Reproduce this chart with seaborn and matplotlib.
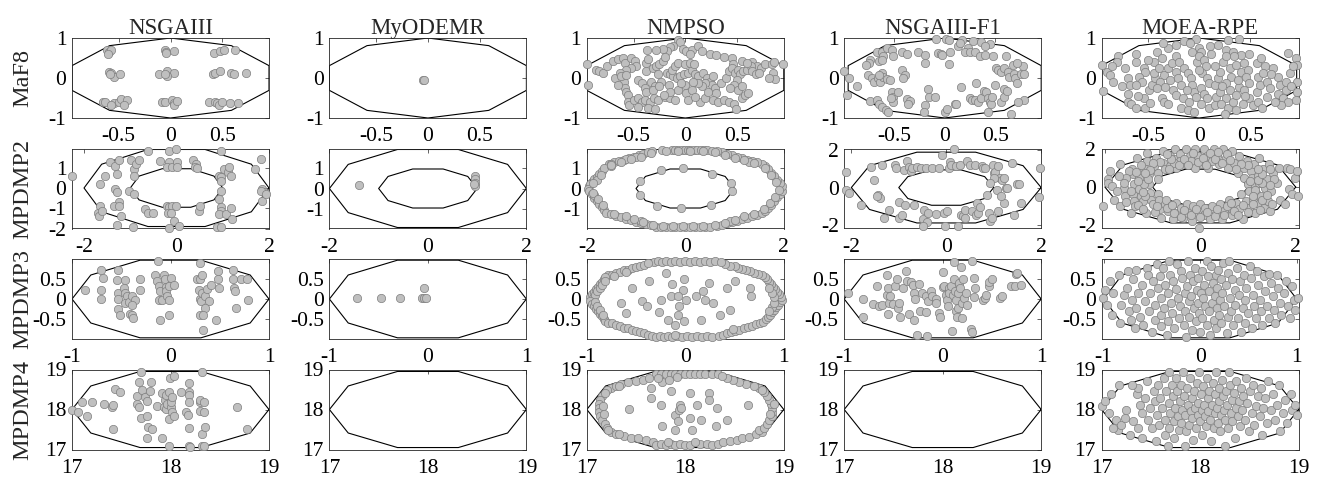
import numpy as np
import pandas as pd
import matplotlib
matplotlib.use("Agg")
import matplotlib.pyplot as plt
from matplotlib.ticker import FuncFormatter
import seaborn as sns

algorithms = ["NSGAIII", "MyODEMR", "NMPSO", "NSGAIII-F1", "MOEA-RPE"]
problems = ["MaF8", "MPDMP2", "MPDMP3", "MPDMP4"]

# ---------------- MaF8 ----------------
maf8_nsgaiii = [(-0.61,0.70),(-0.59,0.64),(-0.57,0.69),(-0.60,0.60),
 (-0.05,0.71),(-0.04,0.66),(0.03,0.68),(-0.04,0.62),
 (0.42,0.63),(0.48,0.68),(0.52,0.70),(0.62,0.70),
 (-0.59,0.15),(-0.57,0.13),(-0.55,0.02),(-0.49,0.10),(-0.58,0.09),
 (-0.11,0.11),(-0.03,0.17),(0.03,0.13),(-0.03,0.05),(-0.05,0.11),
 (0.41,0.10),(0.43,0.13),(0.48,0.17),(0.58,0.13),(0.61,0.09),(0.73,0.13),
 (-0.65,-0.59),(-0.63,-0.59),(-0.55,-0.63),(-0.50,-0.59),(-0.48,-0.52),(-0.42,-0.55),(-0.45,-0.67),(-0.57,-0.67),
 (-0.08,-0.59),(-0.05,-0.59),(0.01,-0.55),(0.03,-0.63),(0.03,-0.68),(0.06,-0.57),
 (0.37,-0.59),(0.43,-0.59),(0.45,-0.63),(0.47,-0.68),(0.50,-0.59),(0.57,-0.63),(0.65,-0.62)]
maf8_myodemr = [(-0.05,-0.05),(-0.04,-0.04)]
maf8_nmpso = [(-0.07,0.96),(-0.05,0.90),
 (-0.12,0.81),(-0.15,0.77),(-0.18,0.68),(-0.22,0.72),(-0.28,0.70),(-0.37,0.70),
 (-0.02,0.73),(0.01,0.68),(0.06,0.70),(0.12,0.81),(0.16,0.68),(0.05,0.60),
 (0.24,0.60),(0.30,0.58),(0.37,0.53),(0.45,0.50),(0.46,0.36),(0.55,0.43),(0.64,0.41),(0.69,0.29),(0.73,0.26),(0.77,0.36),(0.84,0.34),(0.86,0.41),(0.85,0.13),(0.87,-0.02),(0.94,0.34),
 (-0.95,0.34),(-0.86,0.21),(-0.83,0.17),(-0.79,0.13),(-0.76,0.30),(-0.70,0.43),(-0.65,0.47),(-0.60,0.50),(-0.58,0.38),(-0.52,0.51),(-0.49,0.43),(-0.48,0.30),(-0.52,0.26),(-0.57,0.21),
 (-0.94,-0.17),(-0.68,0.00),(-0.63,0.13),(-0.59,-0.09),(-0.58,-0.24),(-0.57,-0.34),(-0.55,-0.43),(-0.65,-0.17),
 (-0.46,-0.04),(-0.42,-0.13),(-0.39,-0.24),(-0.38,-0.34),(-0.38,0.17),(-0.38,0.38),(-0.36,0.47),
 (-0.31,0.26),(-0.28,0.30),(-0.25,0.34),(-0.22,0.43),(-0.20,0.53),(-0.26,0.09),(-0.33,-0.09),(-0.29,-0.21),(-0.31,-0.30),
 (-0.18,0.13),(-0.15,0.09),(-0.12,0.04),(-0.08,0.00),(-0.05,0.04),(-0.01,0.09),(0.03,0.13),(0.06,0.21),(0.09,0.09),(0.12,0.04),(-0.13,0.21),(-0.10,0.30),(-0.07,0.38),(0.00,0.34),(0.05,0.38),(0.08,0.34),
 (0.17,0.13),(0.21,0.00),(0.24,-0.09),(0.26,-0.17),(0.27,0.04),(0.19,-0.13),(0.16,-0.21),(0.12,-0.13),(0.29,-0.26),(0.30,-0.38),
 (0.34,-0.13),(0.39,0.00),(0.42,0.17),(0.45,0.26),(0.48,0.13),(0.51,0.21),(0.53,0.09),(0.56,0.17),(0.60,0.21),(0.50,-0.04),(0.47,-0.17),(0.43,-0.26),(0.51,-0.30),(0.55,-0.21),
 (-0.55,-0.60),(-0.54,-0.68),(-0.50,-0.56),(-0.46,-0.51),(-0.42,-0.60),(-0.39,-0.56),(-0.34,-0.60),(-0.30,-0.51),(-0.26,-0.56),(-0.20,-0.47),(-0.15,-0.51),(-0.10,-0.56),(-0.46,-0.73),(-0.36,-0.75),(-0.29,-0.77),
 (-0.07,-0.30),(0.01,-0.38),(0.03,-0.56),(0.14,-0.60),(0.19,-0.51),(0.22,-0.34),(0.27,-0.56),(0.32,-0.60),(0.37,-0.56),(0.42,-0.60),(0.47,-0.64),(0.49,-0.77),(0.55,-0.51),(0.58,-0.43),(0.61,-0.38),
 (0.63,0.30),(0.64,0.17),(0.68,0.09),(0.71,0.13),(0.60,0.38),(0.81,0.00),(0.07,-0.09),(0.00,-0.17),(-0.04,-0.13),
 (-0.23,-0.09),(-0.25,-0.21),(-0.16,-0.17),(-0.15,-0.34),(-0.21,-0.43),(0.06,-0.30),(0.09,-0.47),(-0.62,0.04),(-0.57,0.07)]
maf8_f1 = [(-0.09,0.97),(0.01,0.97),(0.04,0.96),(0.17,0.96),(0.28,0.92),(0.36,0.90),(0.45,0.85),(0.40,0.79),(0.23,0.75),(0.20,0.66),(0.25,0.65),(0.13,0.79),(0.15,0.87),(0.30,0.66),
 (-0.26,0.66),(-0.19,0.58),(-0.19,0.37),(-0.07,0.62),(-0.04,0.60),(-0.03,0.58),(0.04,0.34),(0.05,0.66),
 (-0.67,0.66),(-0.62,0.66),(-0.61,0.54),(-0.57,0.75),(-0.52,0.71),(-0.51,0.55),(-0.65,0.43),(-0.62,0.45),(-0.74,0.45),(-0.75,0.37),(-0.78,0.33),(-0.42,0.66),(-0.37,0.60),
 (-0.99,0.18),(-0.94,0.01),(-0.86,-0.19),(-0.76,0.08),(-0.72,-0.01),(-0.70,-0.09),(-0.66,-0.01),(-0.64,-0.09),(-0.62,0.12),(-0.61,0.03),(-0.57,-0.03),(-0.54,-0.05),(-0.65,0.08),(-0.42,0.20),(-0.39,0.08),(-0.41,-0.01),(-0.96,-0.43),
 (-0.74,-0.58),(-0.67,-0.55),(-0.65,-0.64),(-0.62,-0.72),(-0.58,-0.81),(-0.56,-0.85),(-0.52,-0.34),(-0.51,-0.47),(-0.51,-0.60),(-0.46,-0.34),(-0.53,-0.51),(-0.37,-0.53),(-0.34,-0.58),(-0.36,-0.64),(-0.19,-0.68),(-0.20,-0.85),(-0.15,-0.47),(-0.10,-0.47),
 (-0.16,-0.28),(0.00,-0.85),(0.02,-0.78),(0.10,-0.64),(0.11,-0.64),(0.16,-0.22),(0.31,-0.12),(0.25,-0.51),(0.27,-0.55),(0.30,-0.55),(0.33,-0.60),(0.36,-0.51),(0.39,-0.33),(0.41,-0.34),(0.43,-0.51),(0.45,-0.60),(0.46,-0.64),(0.47,-0.47),(0.55,-0.60),(0.58,-0.47),(0.58,-0.28),(0.61,-0.33),(0.43,-0.85),(0.65,-0.89),(0.78,-0.55),(0.72,-0.60),
 (0.35,0.54),(0.40,0.58),(0.48,0.56),(0.60,0.56),(0.51,0.24),(0.53,0.20),(0.55,0.16),(0.58,0.26),(0.62,0.16),(0.63,0.03),(0.67,0.33),(0.68,0.09),(0.69,-0.01),(0.71,-0.13),(0.75,0.09),(0.78,0.09),(0.77,0.31),(0.71,0.37),(0.50,-0.18)]
maf8_rpe = [(-0.03,0.98),(0.28,0.96),(0.39,0.97),(-0.15,0.93),(-0.23,0.83),(-0.09,0.87),(0.00,0.75),(0.02,0.66),(-0.07,0.66),(0.11,0.79),(0.18,0.83),(0.26,0.71),(0.33,0.66),(0.41,0.58),(0.49,0.60),(0.56,0.37),(0.64,0.29),(0.87,0.62),(0.94,0.50),(0.95,0.33),
 (-0.95,0.33),(-0.90,0.16),(-0.87,0.08),(-0.84,-0.09),(-0.94,-0.33),(-0.79,0.54),(-0.72,0.24),(-0.69,-0.01),(-0.67,-0.18),(-0.62,0.60),(-0.62,0.41),(-0.54,0.24),(-0.53,0.16),(-0.59,0.03),(-0.56,-0.09),(-0.62,-0.18),(-0.69,-0.39),(-0.69,-0.60),(-0.66,-0.64),(-0.62,-0.76),(-0.53,-0.76),(-0.54,-0.51),(-0.49,-0.30),(-0.46,-0.18),(-0.43,-0.01),(-0.44,0.12),(-0.44,0.41),(-0.41,0.66),(-0.36,0.50),(-0.39,0.24),(-0.34,0.08),(-0.38,-0.09),(-0.41,-0.26),(-0.36,-0.51),(-0.34,-0.60),(-0.30,-0.64),(-0.33,-0.22),(-0.28,-0.05),(-0.30,0.24),(-0.26,0.37),(-0.23,0.54),(-0.20,0.41),(-0.23,0.16),(-0.21,-0.01),(-0.18,-0.18),(-0.25,-0.30),(-0.23,-0.43),(-0.16,-0.51),(-0.18,-0.76),(-0.11,-0.81),(-0.10,-0.60),
 (-0.15,0.24),(-0.11,0.12),(-0.08,-0.01),(-0.07,-0.18),(-0.05,-0.34),(-0.03,-0.47),(-0.02,0.41),(0.00,0.54),(0.05,0.45),(0.07,0.29),(0.03,0.12),(0.08,-0.01),(0.10,-0.13),(0.02,-0.26),(0.05,-0.39),(0.08,-0.51),(0.02,-0.64),(0.10,-0.76),(0.15,-0.68),(0.16,-0.47),(0.20,-0.34),(0.15,-0.18),(0.18,-0.01),(0.20,0.16),(0.15,0.29),(0.23,0.41),(0.26,0.54),(0.30,0.24),(0.31,0.03),(0.26,-0.13),(0.30,-0.30),(0.26,-0.51),(0.21,-0.64),(0.28,-0.76),(0.36,-0.81),(0.33,-0.60),(0.36,-0.43),(0.39,-0.22),(0.38,-0.05),(0.41,0.16),(0.36,0.33),(0.44,0.37),(0.48,0.20),(0.46,0.03),(0.49,-0.13),(0.44,-0.30),(0.49,-0.51),(0.43,-0.64),(0.53,-0.68),(0.57,-0.60),(0.56,-0.34),(0.59,-0.18),(0.57,0.03),(0.62,0.12),(0.66,-0.09),(0.69,-0.26),(0.66,-0.47),(0.61,-0.76),(0.72,0.24),(0.77,0.03),(0.79,-0.18),(0.77,-0.39),(0.82,-0.51),(0.85,-0.30),(0.85,-0.09),(0.89,0.12),(0.92,0.29),(0.95,-0.09),(0.95,-0.34),(0.94,-0.55),(0.87,-0.60),(0.80,-0.68),
 (-0.80,0.40),(-0.75,-0.20),(-0.50,0.45),(-0.48,-0.62),(-0.30,0.75),(-0.12,-0.30),(0.00,0.20),(0.12,0.60),(0.22,-0.20),(0.34,0.55),(0.45,-0.45),(0.60,0.50),(0.70,0.10),(0.74,-0.60),(0.90,-0.20),(-0.05,-0.85),(0.25,-0.90),(-0.35,0.88),(-0.60,-0.45),(-0.85,0.30)]

# ---------------- MPDMP2 ----------------
mpdmp2_nsgaiii = [(-2.25,0.58),(-1.66,0.20),(-1.55,0.61),(-1.43,1.27),(-1.32,1.11),(-1.25,1.36),(-1.29,0.69),(-1.32,-0.05),(-1.29,-0.21),(-1.25,-0.71),(-1.36,-0.88),(-1.25,-0.88),(-1.21,-1.37),(-1.29,-1.83),(-0.95,-1.95),
 (-0.99,1.36),(-0.91,0.94),(-0.93,0.61),(-0.87,1.19),(-0.81,1.39),(-0.69,-1.04),(-0.61,-1.21),(-0.50,-1.21),(-1.02,-0.13),(-0.91,-0.30),(-1.66,-0.88),(-1.70,-1.21),(-1.67,-1.37),(-1.62,-1.12),
 (-0.61,1.85),(-0.35,1.31),(-0.16,1.85),(-0.01,1.93),(-0.16,1.27),(-0.20,1.02),(-0.09,1.02),(0.00,1.27),(0.00,1.02),(-0.20,-0.88),(-0.16,-0.96),(-0.09,-0.88),(-0.01,-0.91),(-0.18,-1.21),(-0.11,-1.24),(-0.05,-1.62),(0.06,-1.87),(-0.16,-1.98),
 (0.36,1.36),(0.43,1.19),(0.39,1.02),(0.45,0.97),(0.49,-1.12),(0.51,-0.88),(0.96,1.85),(0.92,0.61),(0.96,0.53),(0.96,0.36),(1.03,0.94),(1.11,0.78),(1.18,0.61),(1.14,1.02),(0.96,-0.13),(0.92,-0.55),(0.96,-0.96),(0.96,-1.12),(0.92,-1.29),(0.88,-1.95),(0.96,-1.95),(1.07,-1.29),(1.18,-1.01),(1.20,-1.54),
 (1.70,0.94),(1.82,1.44),(1.85,-0.05),(1.89,-0.21),(1.85,-0.63),(1.82,-0.13),(1.93,-0.30)]
mpdmp2_myodemr = [(-1.40,0.15),(0.95,0.61),(0.95,0.45),(0.95,0.28),(0.96,0.12),(0.94,0.20)]
mpdmp2_nmpso = [(-0.49,0.91),(-0.05,1.02),(0.55,0.73),(0.92,0.25),(0.94,-0.13),(-0.92,0.36),(-0.92,-0.30),(-0.58,-0.83),(-0.08,-0.96),(0.53,-0.81),
 (-0.48,1.87),(-0.27,1.87),(-0.20,1.87),(-0.14,1.87),(-0.07,1.87),(0.00,1.87),(0.05,1.87),(0.10,1.87),(0.17,1.87),(0.24,1.87),(0.31,1.87),(0.38,1.87),(0.44,1.87),(0.55,1.85),
 (-1.55,1.19),(-1.45,1.27),(-1.35,1.34),(-1.25,1.41),(-1.15,1.49),(-1.05,1.56),(-0.95,1.63),(-0.85,1.70),(-0.75,1.77),(-0.68,1.82),(-1.50,1.20),(-1.20,1.42),(-1.00,1.55),
 (-1.95,0.10),(-1.90,0.30),(-1.85,0.45),(-1.80,0.55),(-1.75,0.70),(-1.70,0.85),(-1.65,1.00),(-1.93,0.20),(-1.98,0.00),
 (-1.95,-0.10),(-1.90,-0.28),(-1.85,-0.45),(-1.80,-0.60),(-1.75,-0.75),(-1.70,-0.90),(-1.65,-1.05),(-1.60,-1.18),(-1.50,-1.25),(-1.40,-1.32),(-1.30,-1.40),(-1.20,-1.47),(-1.10,-1.55),(-1.00,-1.62),(-0.90,-1.68),(-0.80,-1.75),(-0.70,-1.80),(-0.60,-1.86),
 (-0.50,-1.88),(-0.40,-1.88),(-0.30,-1.88),(-0.20,-1.90),(-0.10,-1.88),(0.00,-1.90),(0.10,-1.88),(0.20,-1.90),(0.30,-1.88),(0.40,-1.88),(0.50,-1.86),
 (0.65,-1.82),(0.75,-1.77),(0.85,-1.70),(0.95,-1.63),(1.05,-1.57),(1.15,-1.50),(1.25,-1.42),(1.35,-1.35),(1.45,-1.28),(1.55,-1.20),(1.62,-1.10),(1.68,-0.93),(1.74,-0.78),(1.80,-0.60),(1.86,-0.42),(1.92,-0.25),(1.96,-0.10),
 (1.96,0.10),(1.92,0.25),(1.86,0.42),(1.80,0.60),(1.74,0.78),(1.68,0.93),(1.62,1.10),(1.55,1.20),(1.45,1.27),(1.35,1.34),(1.25,1.41),(1.15,1.49),(1.05,1.56),(0.95,1.63),(0.85,1.70),(0.75,1.77),(0.65,1.83),
 (-1.50,1.10),(-1.30,1.30),(-1.80,0.40),(-1.85,-0.30),(-1.20,-1.35),(1.20,-1.35),(1.85,0.30),(1.30,1.30),(-0.90,-1.60),(0.90,-1.60),
 (-1.50,1.13),(-1.10,1.42),(-0.90,1.56),(-0.70,1.71),(-1.88,0.25),(-1.72,0.68),(-1.88,-0.20),(-1.78,-0.50),(-1.68,-0.80),(-1.45,-1.22),(-1.05,-1.50),(-0.85,-1.63),(-0.65,-1.76),(-0.45,-1.82),(-0.25,-1.82),(-0.05,-1.83),(0.15,-1.82),(0.35,-1.82),(0.60,-1.77),(0.80,-1.66),(1.00,-1.53),(1.40,-1.26),(1.60,-1.00),(1.72,-0.70),(1.83,-0.40),(1.90,-0.05),(1.75,0.68),(1.62,1.00),(1.40,1.23),(1.20,1.37),(1.00,1.51),(0.80,1.65),(0.60,1.78),(0.35,1.82),(0.10,1.82),(-0.15,1.82),(-0.40,1.82)]
mpdmp2_f1 = [(-2.12,0.85),(-2.12,-0.12),(-2.04,-0.30),(-1.79,-0.92),(-1.52,0.41),(-1.58,1.12),(-1.43,-0.39),(-1.40,-0.57),(-1.45,-0.48),(-1.36,1.24),(-1.31,-1.63),(-1.20,-1.19),(-1.09,1.24),(-1.00,-1.63),(-0.99,-0.78),(-0.93,-1.46),(-0.90,0.94),(-0.86,-0.92),(-0.83,1.42),(-0.79,1.12),(-0.75,0.89),(-0.72,1.07),(-0.68,-0.92),(-0.61,1.12),(-0.54,1.03),(-0.49,-1.67),(-0.47,-1.19),(-0.43,1.03),(-0.40,-1.85),(-0.38,-1.37),(-0.50,-2.08),(-0.29,1.07),(-0.22,-1.42),(-0.15,1.07),(-0.08,1.74),(-0.04,-1.37),(-0.02,-2.08),(0.01,-1.24),(0.05,1.07),(0.07,1.39),(0.10,1.21),(0.16,2.05),(0.21,1.17),(0.25,-2.08),(0.28,1.21),(0.32,-1.46),(0.35,-1.55),(0.39,-1.63),(0.39,-1.19),(0.43,1.42),(0.50,1.24),(0.55,-1.28),(0.60,1.24),(0.63,-1.46),(0.64,-0.83),(0.67,-1.37),(0.71,-1.07),(0.75,1.15),(0.78,1.07),(0.82,1.03),(0.85,-0.39),(0.89,-1.37),(0.93,-1.81),(0.96,-1.63),(0.98,1.21),(1.00,0.76),(1.03,0.85),(1.08,1.17),(1.10,-1.28),(1.14,0.53),(1.18,0.41),(1.21,0.50),(1.25,-0.04),(1.21,-0.83),(1.27,0.00),(1.43,-1.46),(1.48,0.18),(1.53,0.18),(1.57,-0.83),(1.39,1.30),(1.96,-0.53),(1.98,1.03),(1.00,0.50),(0.93,0.23),(1.07,-0.12),(1.15,-0.48),(-1.06,1.07)]
mpdmp2_rpe = [(-2.05,-1.00),(-1.93,0.41),(-1.89,0.85),(-1.93,0.23),(-1.86,0.05),(-1.80,-0.66),(-1.68,-1.01),(-1.68,1.21),(-1.61,-0.04),(-1.46,-1.37),(-1.43,0.94),(-1.41,0.67),(-1.39,0.14),(-1.41,-0.39),(-1.39,-0.75),(-1.36,-1.01),(-1.32,1.56),(-1.29,0.50),(-1.29,-0.12),(-1.25,-0.48),(-1.21,-0.75),(-1.18,1.03),(-1.14,-1.37),(-1.11,1.83),(-1.11,1.39),(-1.07,0.67),(-1.07,0.14),(-1.06,-0.30),(-1.04,-0.66),(-1.00,-0.92),(-0.97,1.12),(-0.93,1.56),(-0.89,0.76),(-0.89,0.41),(-0.89,-0.39),(-0.86,-0.66),(-0.84,-1.19),(-0.82,-1.63),(-0.79,1.92),(-0.79,1.30),(-0.75,0.94),(-0.75,-0.92),(-0.72,-0.66),(-0.68,-1.28),(-0.64,1.65),(-0.63,1.12),(-0.61,-1.01),(-0.57,-1.72),(-0.54,2.00),(-0.54,1.47),(-0.50,1.03),(-0.50,-0.83),(-0.47,-1.37),(-0.43,1.74),(-0.42,1.39),(-0.40,-1.10),(-0.36,-1.63),(-0.32,1.21),(-0.30,2.00),(-0.29,-0.92),(-0.25,-1.37),(-0.22,1.65),(-0.20,1.39),(-0.18,-1.81),(-0.15,-1.01),(-0.11,2.00),(-0.11,1.03),(-0.08,-1.37),(-0.04,1.65),(-0.02,-2.15),(0.00,-0.92),(0.03,1.21),(0.07,2.00),(0.08,-1.46),(0.10,-1.10),(0.14,1.65),(0.17,1.03),(0.21,-1.72),(0.25,-1.01),(0.25,1.39),(0.28,2.00),(0.32,-1.37),(0.35,1.65),(0.39,1.21),(0.42,-0.92),(0.46,-1.72),(0.48,2.00),(0.50,-1.28),(0.53,1.56),(0.57,1.03),(0.60,-0.66),(0.64,-1.10),(0.67,1.92),(0.67,-1.46),(0.71,1.30),(0.74,-0.83),(0.78,0.76),(0.82,1.65),(0.82,-1.19),(0.85,-0.39),(0.89,-1.72),(0.91,1.03),(0.92,0.50),(0.96,-0.75),(0.98,1.39),(1.00,0.14),(1.01,-1.10),(1.03,-0.21),(1.07,0.85),(1.08,0.50),(1.10,-0.66),(1.12,1.21),(1.14,0.05),(1.15,-1.37),(1.17,-0.30),(1.21,0.59),(1.22,-0.92),(1.24,1.56),(1.24,0.23),(1.28,-0.48),(1.31,0.94),(1.34,-1.10),(1.35,-0.04),(1.39,0.41),(1.42,-0.75),(1.43,1.21),(1.46,-1.28),(1.49,-0.21),(1.52,0.76),(1.60,0.23),(1.64,1.03),(1.67,-0.66),(1.78,-0.92),(1.81,1.03),(1.85,-0.12),(1.88,0.94),(1.92,-0.39),(1.98,0.50),(2.03,0.85),(2.04,-0.48),(-1.50,0.85),(-1.57,-0.48),(-1.18,0.14),
 (-0.55,1.30),(-0.45,1.20),(-0.35,1.50),(-0.25,1.15),(-0.15,1.80),(-0.05,1.35),(0.05,1.55),(0.12,1.20),(0.20,1.80),(0.30,1.50),(0.38,1.85),(0.45,1.30),(0.55,1.75),(0.62,1.45),(-0.62,1.50),(-0.70,1.75),(-0.85,1.35),(-1.00,1.30),(-1.25,1.20),(-1.35,0.80),(-1.55,0.50),(-1.70,0.60),(-1.75,-0.20),(-1.55,-0.80),(-1.30,-0.95),(-1.15,-0.50),(-1.20,-1.15),(-0.95,-1.35),(-0.90,-1.00),(-0.70,-1.10),(-0.55,-1.40),(-0.40,-1.60),(-0.35,-1.20),(-0.20,-1.50),(-0.10,-1.15),(0.00,-1.60),(0.15,-1.30),(0.30,-1.55),(0.35,-1.15),(0.50,-1.50),(0.55,-1.00),(0.70,-1.25),(0.80,-1.50),(0.90,-0.95),(1.00,-1.35),(1.10,-0.90),(1.25,-1.20),(1.30,-0.70),(1.40,-0.40),(1.50,-0.90),(1.55,0.45),(1.45,0.10),(1.30,0.20),(1.20,0.35),(1.15,-0.15),(1.30,0.70),(1.45,0.95),(1.20,0.95),(1.00,1.15),(0.85,1.25),(0.75,0.95),(1.05,0.30),(1.10,-0.45),(-1.10,0.45),(-1.20,-0.25),(-1.30,0.30),(-1.45,-0.20),(-1.60,0.20),(-1.05,0.90),(-1.15,0.75),(-0.65,0.95),(0.65,-0.85),(-0.60,-0.95)]

# ---------------- MPDMP3 ----------------
mpdmp3_nsgaiii = [(-0.87,0.23),(-0.71,0.70),(-0.69,0.52),(-0.71,0.21),(-0.71,0.00),(-0.53,0.70),(-0.54,0.46),(-0.46,0.46),(-0.53,0.15),(-0.53,0.00),(-0.53,-0.25),(-0.51,-0.40),(-0.47,0.26),(-0.46,0.15),(-0.44,0.07),(-0.46,-0.10),(-0.42,-0.07),(-0.39,0.07),(-0.36,-0.02),(-0.39,-0.14),(-0.41,-0.37),(-0.39,-0.40),(-0.38,-0.47),(-0.31,0.48),(-0.31,0.21),(-0.16,0.60),(-0.14,0.44),(-0.13,0.93),(-0.12,0.31),(-0.12,-0.02),(-0.11,0.19),(-0.09,-0.02),(-0.07,0.60),(-0.06,0.50),(-0.05,0.29),(-0.05,0.19),(-0.04,0.07),(-0.02,-0.02),(-0.02,0.31),(0.00,0.52),(-0.11,-0.52),(-0.02,-0.39),(0.04,0.34),
 (0.30,0.89),(0.27,0.50),(0.30,0.50),(0.32,0.60),(0.29,0.21),(0.30,0.00),(0.31,-0.06),(0.32,0.15),(0.35,0.07),(0.37,0.25),(0.39,-0.04),(0.35,-0.22),(0.30,-0.40),(0.33,-0.40),(0.33,-0.76),(0.41,0.34),(0.46,-0.51),(0.48,0.69),(0.48,0.50),(0.49,0.27),(0.63,0.70),(0.63,0.50),(0.64,0.26),(0.65,0.19),(0.66,-0.22),(0.72,0.50),(0.78,0.50),(0.79,-0.02)]
mpdmp3_myodemr = [(-0.72,0.02),(-0.48,0.02),(-0.28,0.02),(-0.06,0.02),(-0.04,0.02),(-0.02,0.02),(-0.04,0.27)]
mpdmp3_nmpso = [(-0.32,0.90),(-0.28,0.93),(-0.24,0.90),(-0.20,0.93),(-0.15,0.91),(-0.10,0.93),(-0.05,0.90),(0.00,0.93),(0.05,0.91),(0.10,0.93),(0.15,0.90),(0.20,0.93),(0.25,0.91),(0.30,0.93),
 (-0.78,0.58),(-0.74,0.60),(-0.70,0.64),(-0.66,0.66),(-0.62,0.70),(-0.58,0.72),(-0.54,0.76),(-0.50,0.78),(-0.46,0.82),(-0.42,0.84),(-0.38,0.88),(-0.72,0.56),(-0.60,0.66),
 (-0.97,0.06),(-0.95,0.12),(-0.93,0.18),(-0.91,0.24),(-0.89,0.30),(-0.87,0.36),(-0.85,0.42),(-0.83,0.48),(-0.82,0.54),(-0.94,0.02),(-0.92,0.10),(-0.90,0.20),(-0.87,0.28),(-0.85,0.35),(-0.82,0.44),
 (-0.97,-0.06),(-0.95,-0.12),(-0.93,-0.18),(-0.91,-0.24),(-0.89,-0.30),(-0.87,-0.36),(-0.85,-0.42),(-0.83,-0.48),(-0.82,-0.54),(-0.92,-0.08),(-0.90,-0.18),(-0.87,-0.26),(-0.84,-0.40),
 (-0.78,-0.58),(-0.74,-0.60),(-0.70,-0.64),(-0.66,-0.66),(-0.62,-0.70),(-0.58,-0.72),(-0.54,-0.76),(-0.50,-0.78),(-0.46,-0.82),(-0.42,-0.84),(-0.38,-0.88),(-0.34,-0.90),
 (-0.30,-0.93),(-0.26,-0.90),(-0.22,-0.93),(-0.18,-0.91),(-0.13,-0.93),(-0.08,-0.90),(-0.03,-0.93),(0.02,-0.91),(0.07,-0.93),(0.12,-0.90),(0.17,-0.93),(0.22,-0.91),(0.27,-0.93),(-0.10,-0.88),
 (0.34,-0.90),(0.38,-0.88),(0.42,-0.84),(0.46,-0.82),(0.50,-0.78),(0.55,-0.75),(0.60,-0.72),(0.64,-0.68),(0.68,-0.66),(0.72,-0.62),(0.76,-0.60),(0.79,-0.56),(0.48,-0.74),
 (0.82,-0.50),(0.84,-0.44),(0.86,-0.38),(0.88,-0.32),(0.90,-0.26),(0.92,-0.20),(0.94,-0.14),(0.96,-0.08),(0.98,-0.02),(0.88,-0.20),(0.90,-0.10),(0.85,-0.30),
 (0.97,0.06),(0.95,0.12),(0.93,0.18),(0.91,0.24),(0.89,0.30),(0.87,0.36),(0.85,0.42),(0.83,0.48),(0.81,0.54),(0.90,0.05),(0.88,0.15),(0.85,0.28),
 (0.78,0.60),(0.74,0.62),(0.70,0.64),(0.66,0.68),(0.62,0.70),(0.58,0.74),(0.54,0.76),(0.50,0.80),(0.45,0.82),(0.40,0.86),(0.36,0.90),
 (-0.20,0.64),(-0.37,0.45),(-0.54,0.27),(-0.01,0.48),(-0.14,0.37),(-0.02,0.23),(0.24,0.40),(0.42,0.27),(0.50,0.45),(0.66,0.27),(0.67,0.07),(-0.15,0.07),(-0.25,-0.02),(-0.07,0.07),(0.01,-0.02),(0.11,0.07),(0.18,0.19),(0.20,-0.02),(0.28,-0.10),(0.45,-0.26),(0.35,-0.40),(0.16,-0.51),(-0.01,-0.55),(-0.07,-0.40),(-0.06,-0.16),(-0.27,-0.32),(-0.18,-0.51),(-0.44,-0.06),(-0.65,-0.10),(-0.39,-0.18),(-0.60,-0.35),(-0.10,-0.64)]
mpdmp3_f1 = [(-0.96,0.15),(-0.81,0.00),(-0.81,-0.45),(-0.71,-0.12),(-0.67,0.31),(-0.65,-0.16),(-0.62,-0.14),(-0.57,0.60),(-0.57,0.11),(-0.56,0.26),(-0.56,-0.37),(-0.55,-0.10),(-0.53,0.07),(-0.50,-0.12),(-0.48,0.31),(-0.46,0.50),(-0.45,-0.22),(-0.43,-0.43),(-0.44,-0.10),(-0.40,0.27),(-0.37,0.68),(-0.36,0.45),(-0.34,-0.37),(-0.32,0.42),(-0.30,0.34),(-0.29,0.15),(-0.29,-0.51),(-0.28,0.01),(-0.26,-0.88),(-0.24,0.37),(-0.23,-0.29),(-0.21,0.15),(-0.17,0.07),(-0.17,-0.32),(-0.16,-0.90),(-0.15,-0.06),(-0.12,0.19),(-0.11,0.07),(-0.07,0.01),(-0.07,-0.10),(-0.04,-0.35),(-0.03,-0.45),(0.00,0.29),(0.00,0.67),(0.01,0.31),(0.03,0.11),(0.04,-0.02),(0.05,-0.18),(0.06,0.26),(0.06,0.15),(0.08,0.31),(0.09,-0.78),(0.10,0.11),(0.11,0.91),(0.11,0.48),(0.12,0.19),(0.13,-0.02),(0.14,-0.30),(0.15,-0.45),(0.16,-0.21),(0.16,0.15),(0.17,0.40),(0.18,0.27),(0.19,0.78),(0.20,-0.47),(0.20,-0.10),(0.21,0.50),(0.22,0.02),(0.24,0.15),(0.25,-0.14),(0.29,-0.73),(0.30,0.93),(0.30,-0.80),(0.32,0.52),(0.32,0.04),(0.33,0.26),(0.41,-0.02),(0.43,0.02),(0.44,0.11),(0.47,0.31),(0.47,0.42),(0.50,0.50),(0.58,0.02),(0.60,0.07),(0.69,0.31),(0.73,0.31),(0.74,0.62),(0.75,0.64),(0.79,0.34)]
mpdmp3_rpe = [(-1.01,0.02),(-0.98,0.23),(-0.96,-0.14),(-0.93,0.44),(-0.91,-0.39),(-0.90,0.15),(-0.84,0.60),(-0.83,-0.59),(-0.82,-0.14),(-0.79,0.11),(-0.76,0.27),(-0.75,0.68),(-0.74,-0.30),(-0.72,-0.51),(-0.71,-0.02),(-0.69,0.48),(-0.67,-0.72),(-0.66,0.72),(-0.66,-0.22),(-0.64,0.15),(-0.62,-0.43),(-0.60,0.35),(-0.59,-0.63),(-0.57,-0.06),(-0.55,0.77),(-0.54,0.60),(-0.53,-0.30),(-0.52,0.15),(-0.50,-0.80),(-0.49,0.44),(-0.47,-0.51),(-0.47,-0.14),(-0.45,0.85),(-0.44,0.27),(-0.42,0.56),(-0.41,-0.39),(-0.40,0.02),(-0.40,-0.67),(-0.38,0.77),(-0.37,-0.22),(-0.36,0.35),(-0.34,-0.88),(-0.33,0.15),(-0.33,-0.55),(-0.32,0.93),(-0.31,0.60),(-0.30,-0.10),(-0.29,-0.35),(-0.28,0.44),(-0.27,-0.72),(-0.25,0.25),(-0.24,0.85),(-0.23,0.02),(-0.22,-0.47),(-0.21,-0.18),(-0.20,0.68),(-0.19,0.52),(-0.17,-0.63),(-0.16,0.15),(-0.16,-0.30),(-0.15,-0.92),(-0.14,0.31),(-0.13,0.93),(-0.12,-0.06),(-0.11,-0.43),(-0.10,0.60),(-0.09,0.07),(-0.08,-0.76),(-0.07,0.44),(-0.06,-0.22),(-0.05,0.77),(-0.04,-0.55),(-0.03,0.23),(-0.02,-0.10),(-0.02,0.52),(-0.01,-0.35),(0.00,-0.80),(0.01,0.15),(0.02,0.68),(0.02,-0.47),(0.03,0.02),(0.04,0.35),(0.05,-0.18),(0.07,0.93),(0.07,-0.63),(0.08,0.56),(0.09,0.19),(0.09,-0.30),(0.10,-0.88),(0.11,0.81),(0.12,-0.10),(0.13,0.40),(0.14,-0.51),(0.15,0.07),(0.16,0.60),(0.16,-0.72),(0.17,-0.22),(0.18,0.27),(0.19,0.72),(0.20,-0.39),(0.21,-0.02),(0.22,0.48),(0.22,-0.59),(0.23,0.15),(0.24,0.89),(0.25,-0.18),(0.27,0.35),(0.28,-0.84),(0.29,-0.43),(0.29,0.64),(0.30,0.93),(0.31,0.02),(0.32,-0.30),(0.33,0.48),(0.34,-0.63),(0.36,0.23),(0.36,-0.14),(0.38,0.77),(0.39,-0.47),(0.40,0.11),(0.41,0.44),(0.42,-0.80),(0.44,-0.22),(0.45,0.60),(0.47,-0.02),(0.47,-0.59),(0.48,0.27),(0.50,-0.35),(0.52,0.80),(0.53,0.52),(0.54,-0.72),(0.55,0.11),(0.56,-0.18),(0.58,-0.47),(0.59,0.68),(0.60,0.35),(0.62,-0.02),(0.63,-0.30),(0.64,-0.63),(0.66,0.56),(0.67,0.19),(0.69,-0.18),(0.71,0.62),(0.71,-0.47),(0.73,0.39),(0.75,0.07),(0.77,-0.26),(0.78,-0.59),(0.80,0.58),(0.81,0.27),(0.83,-0.10),(0.84,-0.39),(0.87,0.15),(0.89,0.44),(0.91,-0.18),(0.93,-0.47),(0.95,0.31),(0.97,-0.02),(0.98,-0.26),(1.01,0.02)]

# ---------------- MPDMP4 ----------------
mpdmp4_nsgaiii = [(17.00,18.00),(17.06,17.94),(17.10,18.19),(17.15,17.83),(17.20,18.19),(17.32,18.15),(17.41,18.06),(17.42,18.11),(17.42,17.52),(17.44,18.51),(17.49,18.43),(17.66,18.34),(17.66,18.15),(17.68,18.06),(17.68,18.68),(17.70,18.93),(17.70,17.79),(17.71,18.50),(17.74,18.32),(17.76,18.21),(17.76,17.83),(17.76,17.30),(17.77,17.57),(17.79,18.47),(17.80,18.68),(17.81,17.51),(17.86,18.09),(17.91,18.42),(17.91,17.30),(17.93,18.06),(17.94,18.23),(17.95,18.02),(17.95,18.36),(17.96,18.15),(17.98,18.45),(17.98,17.77),(17.98,17.09),(17.99,18.79),(18.00,18.06),(18.01,18.19),(18.02,18.32),(18.02,17.94),(18.04,17.85),(18.04,18.83),(18.11,18.45),(18.16,17.94),(18.18,17.86),(18.19,18.66),(18.19,18.45),(18.19,18.36),(18.19,18.19),(18.19,17.53),(18.19,17.09),(18.20,17.06),(18.30,18.19),(18.30,18.23),(18.30,17.96),(18.32,18.93),(18.32,17.38),(18.32,17.09),(18.34,17.09),(18.34,18.19),(18.34,17.94),(18.35,17.56),(18.68,18.06),(18.78,17.51)]
mpdmp4_myodemr = []
mpdmp4_nmpso = [(17.65,18.54),(17.65,18.29),(17.75,18.12),(17.76,18.69),(17.85,18.46),(17.90,17.87),(17.94,18.00),(17.93,17.72),(17.95,18.12),(17.96,18.04),(18.05,18.42),(18.05,17.79),(18.07,17.49),(18.12,18.11),(18.16,17.75),(18.24,18.42),(18.24,18.25),(18.32,18.04),(18.42,17.75),(18.31,17.58),(18.64,18.12),(17.76,17.58),(17.90,17.50),(17.43,18.02),
 (17.70,18.88),(17.75,18.90),(17.80,18.88),(17.85,18.90),(17.90,18.88),(17.95,18.90),(18.00,18.89),(18.05,18.90),(18.10,18.88),(18.15,18.90),(18.20,18.89),(18.27,18.90),(18.33,18.88),(17.72,18.78),(17.83,18.75),(17.92,18.82),
 (17.25,18.55),(17.30,18.60),(17.35,18.65),(17.42,18.68),(17.50,18.72),(17.57,18.75),(17.63,18.80),(17.20,18.48),(17.33,18.58),
 (17.15,18.35),(17.13,18.25),(17.12,18.15),(17.12,18.05),(17.12,17.95),(17.13,17.85),(17.15,17.75),(17.18,17.65),(17.20,17.55),(17.18,18.42),(17.16,18.10),(17.17,17.90),
 (17.25,17.45),(17.30,17.40),(17.38,17.35),(17.45,17.30),(17.52,17.28),(17.60,17.25),(17.67,17.20),(17.22,17.50),(17.33,17.38),
 (17.70,17.12),(17.75,17.13),(17.80,17.12),(17.85,17.14),(17.90,17.12),(17.95,17.13),(18.00,17.12),(18.05,17.12),(18.15,17.14),(18.22,17.13),(18.27,17.11),(18.33,17.15),(18.10,17.20),(17.82,17.20),
 (18.38,17.20),(18.45,17.22),(18.52,17.25),(18.58,17.28),(18.65,17.32),(18.72,17.38),(18.78,17.45),(18.75,17.50),
 (18.80,17.55),(18.83,17.65),(18.85,17.75),(18.88,17.85),(18.88,17.95),(18.88,18.05),(18.87,18.15),(18.85,18.25),(18.83,18.35),(18.80,18.45),(18.90,18.15),(18.86,17.90),
 (18.75,18.55),(18.70,18.60),(18.62,18.65),(18.55,18.70),(18.48,18.75),(18.42,18.80),(18.37,18.85),(18.78,18.50)]
mpdmp4_f1 = []
mpdmp4_rpe = [(17.00,18.08),(17.03,18.21),(17.08,17.92),(17.10,18.38),(17.15,17.75),(17.18,18.62),(17.17,17.50),(17.20,17.62),(17.24,17.79),(17.25,18.00),(17.29,17.37),(17.32,17.71),(17.36,18.38),(17.37,18.54),(17.37,17.54),(17.39,18.12),(17.41,17.92),(17.41,17.29),(17.44,18.29),(17.46,18.71),(17.47,17.75),(17.49,18.04),(17.51,17.54),(17.53,18.46),(17.54,18.21),(17.55,17.21),(17.56,17.87),(17.57,18.62),(17.58,17.62),(17.59,18.29),(17.61,18.04),(17.63,18.79),(17.64,17.37),(17.64,17.75),(17.65,18.46),(17.67,17.08),(17.68,18.93),(17.68,18.17),(17.68,17.54),(17.69,17.92),(17.71,18.62),(17.72,18.33),(17.73,17.71),(17.74,17.29),(17.75,18.04),(17.76,18.79),(17.77,18.46),(17.78,17.83),(17.79,17.50),(17.80,18.21),(17.81,18.62),(17.81,17.67),(17.82,18.00),(17.83,18.93),(17.84,18.33),(17.85,17.08),(17.85,17.87),(17.86,17.46),(17.87,18.54),(17.88,18.12),(17.89,17.62),(17.90,18.79),(17.91,17.96),(17.92,18.29),(17.92,17.79),(17.93,17.25),(17.94,18.46),(17.95,18.04),(17.96,17.54),(17.97,18.67),(17.98,18.17),(17.98,17.87),(17.99,18.93),(18.00,17.71),(18.01,18.38),(18.02,18.00),(18.02,17.37),(18.03,18.58),(18.04,18.12),(18.05,17.83),(18.06,17.58),(18.07,18.79),(18.08,18.29),(18.08,17.96),(18.09,18.46),(18.10,17.75),(18.11,17.21),(18.12,18.12),(18.13,18.67),(18.14,17.54),(18.15,17.92),(18.15,18.38),(18.16,18.93),(18.17,18.04),(18.18,17.67),(18.19,18.54),(18.19,18.21),(18.20,17.46),(18.21,17.87),(18.22,18.75),(18.23,18.33),(18.24,18.00),(18.25,17.75),(18.25,17.08),(18.26,18.46),(18.27,18.12),(18.28,17.54),(18.29,18.93),(18.30,18.62),(18.31,17.92),(18.32,18.25),(18.32,17.71),(18.34,18.42),(18.35,17.29),(18.36,18.04),(18.36,18.71),(18.38,17.83),(18.39,18.21),(18.41,17.58),(18.42,18.54),(18.43,18.00),(18.44,18.33),(18.46,17.75),(18.47,18.79),(18.48,18.17),(18.50,17.46),(18.51,18.46),(18.53,17.92),(18.54,18.62),(18.55,17.62),(18.57,18.08),(18.59,18.33),(18.61,17.83),(18.62,18.54),(18.63,17.37),(18.64,18.04),(18.66,18.29),(18.68,17.67),(18.69,18.71),(18.72,18.00),(18.74,18.38),(18.76,17.75),(18.78,18.12),(18.80,18.62),(18.81,17.46),(18.84,17.92),(18.86,18.25),(18.88,17.67),(18.92,18.38),(18.93,18.00),(18.96,18.12),(18.98,17.87),(17.12,17.54),(17.31,18.62)]

panel_points = {
    "MaF8": [maf8_nsgaiii, maf8_myodemr, maf8_nmpso, maf8_f1, maf8_rpe],
    "MPDMP2": [mpdmp2_nsgaiii, mpdmp2_myodemr, mpdmp2_nmpso, mpdmp2_f1, mpdmp2_rpe],
    "MPDMP3": [mpdmp3_nsgaiii, mpdmp3_myodemr, mpdmp3_nmpso, mpdmp3_f1, mpdmp3_rpe],
    "MPDMP4": [mpdmp4_nsgaiii, mpdmp4_myodemr, mpdmp4_nmpso, mpdmp4_f1, mpdmp4_rpe],
}

# axis limits per panel
maf8_xlims = [(-0.951, 0.951), (-0.951, 0.951), (-0.951, 0.951), (-0.99, 0.951), (-0.951, 0.97)]
maf8_ylims = [(-1, 1)] * 5
mpdmp2_xlims = [(-2.26, 2.0), (-2, 2), (-2, 2), (-2.15, 2.0), (-2.07, 2.06)]
mpdmp2_ylims = [(-2.0, 1.95), (-1.95, 1.95), (-1.95, 1.95), (-2.2, 2.1), (-2.2, 2.05)]
mpdmp3_xlims = [(-1, 1), (-1, 1), (-1, 1), (-1, 1), (-1.02, 1.02)]
mpdmp3_ylims = [(-0.98, 0.98)] * 5
mpdmp4_xlims = [(17, 19)] * 5
mpdmp4_ylims = [(17, 19)] * 5
xlims = {"MaF8": maf8_xlims, "MPDMP2": mpdmp2_xlims, "MPDMP3": mpdmp3_xlims, "MPDMP4": mpdmp4_xlims}
ylims = {"MaF8": maf8_ylims, "MPDMP2": mpdmp2_ylims, "MPDMP3": mpdmp3_ylims, "MPDMP4": mpdmp4_ylims}

xticks = {"MaF8": [-0.5, 0, 0.5], "MPDMP2": [-2, 0, 2], "MPDMP3": [-1, 0, 1], "MPDMP4": [17, 18, 19]}
mpdmp2_yticks = [[-2, -1, 0, 1], [-1, 0, 1], [-1, 0, 1], [-2, 0, 2], [-2, 0, 2]]
yticks = {"MaF8": [[-1, 0, 1]] * 5, "MPDMP2": mpdmp2_yticks,
          "MPDMP3": [[-0.5, 0, 0.5]] * 5, "MPDMP4": [[17, 18, 19]] * 5}

# regular decagon outlines of each problem
poly_center = {"MaF8": (0, 0), "MPDMP2": (0, 0), "MPDMP3": (0, 0), "MPDMP4": (18, 18)}
poly_radii = {"MaF8": [1], "MPDMP2": [1, 2], "MPDMP3": [1], "MPDMP4": [1]}
poly_start = {"MaF8": 90, "MPDMP2": 0, "MPDMP3": 0, "MPDMP4": 0}
n_sides = 10

sns.set_style("white")
plt.rcParams["font.family"] = ["Liberation Serif", "DejaVu Serif"]
plt.rcParams["axes.unicode_minus"] = False

FW, FH = 1322, 484
fig = plt.figure(figsize=(FW / 100, FH / 100), dpi=100)
col_left = [72 + 257.4 * c for c in range(5)]
row_top = [38, 148.5, 259, 369.5]
AW, AH = 197, 80
fmt = FuncFormatter(lambda v, p: f"{v:g}")

for r, prob in enumerate(problems):
    for c, alg in enumerate(algorithms):
        ax = fig.add_axes([col_left[c] / FW, 1 - (row_top[r] + AH) / FH, AW / FW, AH / FH])
        cx, cy = poly_center[prob]
        ang = np.deg2rad(poly_start[prob] + 360.0 / n_sides * np.arange(n_sides + 1))
        for R in poly_radii[prob]:
            ax.plot(cx + R * np.cos(ang), cy + R * np.sin(ang), color="black", lw=0.8, zorder=2)
        pts = panel_points[prob][c]
        if len(pts):
            df = pd.DataFrame(pts, columns=["x", "y"])
            sns.scatterplot(data=df, x="x", y="y", ax=ax, s=36, color="#bfbfbf",
                            edgecolor="#7f7f7f", linewidth=0.5, clip_on=False,
                            legend=False, zorder=3)
        ax.set_xlabel("")
        ax.set_ylabel("")
        ax.set_xlim(*xlims[prob][c])
        ax.set_ylim(*ylims[prob][c])
        ax.set_xticks(xticks[prob])
        ax.set_yticks(yticks[prob][c])
        ax.xaxis.set_major_formatter(fmt)
        ax.yaxis.set_major_formatter(fmt)
        ax.tick_params(direction="in", length=3, width=0.5, top=True, right=True,
                       labelsize=15.5, colors="#262626", labelcolor="black")
        ax.tick_params(axis="x", pad=6.5)
        ax.tick_params(axis="y", pad=4)
        for s in ax.spines.values():
            s.set_linewidth(0.6)
            s.set_color("#262626")
        if r == 0:
            ax.set_title(alg, fontsize=16.5, pad=3)
        if c == 0:
            ax.set_ylabel(prob, fontsize=17.5)
            ax.yaxis.set_label_coords(-0.195, 0.5)

fig.savefig("out.png", dpi=100)
